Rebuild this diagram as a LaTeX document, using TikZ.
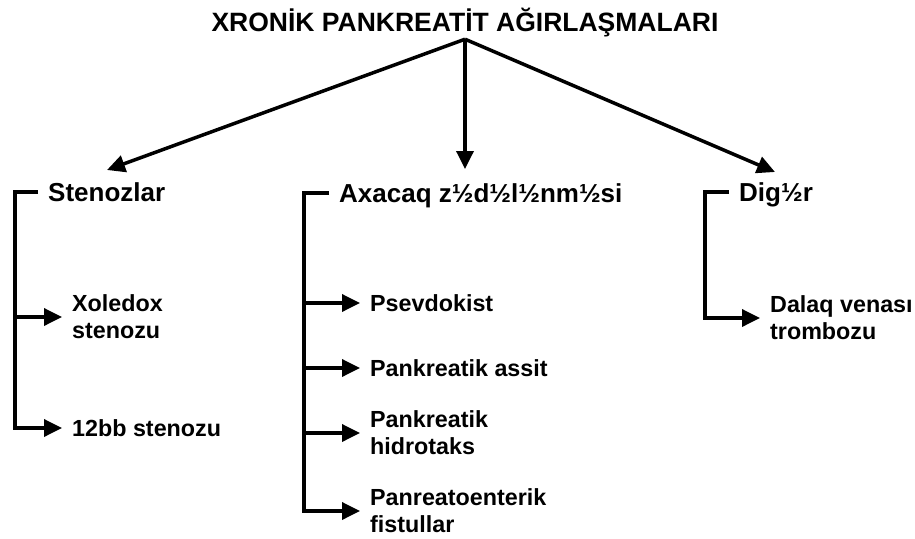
\documentclass[tikz,border=0pt]{standalone}
\usepackage{fontspec}
\setmainfont{Liberation Sans}
\usetikzlibrary{arrows.meta}
\begin{document}
\begin{tikzpicture}[x=1pt,y=-1pt,
  txt/.style={font=\fontsize{23.3}{27}\selectfont\bfseries, inner xsep=10pt, inner ysep=0pt, anchor=west, align=left},
  head/.style={txt, font=\fontsize{26}{27}\selectfont\bfseries, text height=19pt, text depth=0pt},
  arr/.style={line width=3.5pt, -{Triangle[length=18pt,width=17pt]}},
]
\useasboundingbox (0,0) rectangle (915,538);
\node[font=\fontsize{26.5}{30}\selectfont\bfseries, anchor=base, inner ysep=8pt, text depth=0pt] (title) at (465,31) {XRONİK PANKREATİT AĞIRLAŞMALARI};
\coordinate (tl) at (107,170);
\coordinate (tm) at (465,169);
\coordinate (tr) at (775,172);
\draw[arr] (title.south) -- (tl);
\draw[arr] (title.south) -- (tm);
\draw[arr] (title.south) -- (tr);
% headers
\node[head] (sten) at (38,192) {Stenozlar};
\node[head] (axa) at (329,193) {Axacaq z½d½l½nm½si};
\node[head] (dig) at (729,192) {Dig½r};
% children
\node[txt] (xol) at (62,317) {Xoledox\\stenozu};
\node[txt] (bb) at (62,428) {12bb stenozu};
\node[txt] (psev) at (360,303) {Psevdokist};
\node[txt] (assit) at (360,368) {Pankreatik assit};
\node[txt] (hidro) at (360,433) {Pankreatik\\hidrotaks};
\node[txt] (fist) at (360,511) {Panreatoenterik\\fistullar};
\node[txt] (dalaq) at (760,318) {Dalaq venası\\trombozu};
% brackets
\coordinate (sx) at (15,0);
\coordinate (ax) at (304,0);
\coordinate (dx) at (705,0);
\draw[arr] (sten.west) -| (sx |- bb.west) -- (bb.west);
\draw[arr] (sx |- xol.west) -- (xol.west);
\draw[arr] (axa.west) -| (ax |- fist.west) -- (fist.west);
\draw[arr] (ax |- psev.west) -- (psev.west);
\draw[arr] (ax |- assit.west) -- (assit.west);
\draw[arr] (ax |- hidro.west) -- (hidro.west);
\draw[arr] (dig.west) -| (dx |- dalaq.west) -- (dalaq.west);
\end{tikzpicture}
\end{document}
